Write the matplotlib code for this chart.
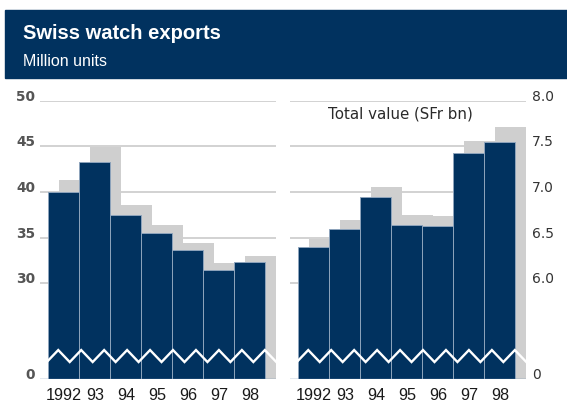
import numpy as np
import matplotlib
matplotlib.use('Agg')
import matplotlib.pyplot as plt
from matplotlib.transforms import blended_transform_factory
from matplotlib.patches import Rectangle

# ---- data ----
years = ['1992', '93', '94', '95', '96', '97', '98']
units = [40.0, 43.3, 37.5, 35.5, 33.6, 31.5, 32.3]
units_shadow = [41.3, 44.9, 38.6, 36.4, 34.4, 32.2, 33.0]
value = [6.40, 6.60, 6.94, 6.64, 6.63, 7.43, 7.55]
value_shadow = [6.49, 6.69, 7.05, 6.75, 6.74, 7.56, 7.71]
units_ticks = [0, 30, 35, 40, 45, 50]
units_ticklabels = ['0', '30', '35', '40', '45', '50']
value_ticks = [0, 6.0, 6.5, 7.0, 7.5, 8.0]
value_ticklabels = ['0', '6.0', '6.5', '7.0', '7.5', '8.0']

NAVY = '#01325f'
SHADOW = '#cfcfcf'
GRID = '#cfcfcf'
EDGE = '#8ea4bc'
BASE = '#6d8db0'

W, H = 567, 404
fig = plt.figure(figsize=(W / 100, H / 100), dpi=100)

# title bar
fig.patches.append(Rectangle((5 / W, 1 - 78.3 / H), 1, (78.3 - 10) / H,
                             transform=fig.transFigure, color=NAVY, zorder=0))
fig.text(22.7 / W, 1 - 39.3 / H, 'Swiss watch exports', color='white',
         fontsize=14.5, fontweight='bold', family='Liberation Sans', va='baseline')
fig.text(22.7 / W, 1 - 66 / H, 'Million units', color='white',
         fontsize=11.5, family='Liberation Sans', va='baseline')


def broken(b, k):
    def fwd(v):
        v = np.asarray(v, float)
        return np.where(v >= b, v, b - (b - v) * k)

    def inv(u):
        u = np.asarray(u, float)
        return np.where(u >= b, u, b - (b - u) / k)
    return fwd, inv


bottom = 1 - 379.3 / H
height = (379.3 - 100.7) / H
axw = 236 / W
ax1 = fig.add_axes([40 / W, bottom, axw, height])
ax2 = fig.add_axes([290 / W, bottom, axw, height])

x = np.arange(len(years))
SH_DX = 0.34


def panel(ax, vals, shadow, ticks, ticklabels, brk, k, side):
    ax.set_yscale('function', functions=broken(brk, k))
    ax.set_ylim(0, ticks[-1])
    ax.set_xlim(-0.768, 6.84)
    for t in ticks[1:]:
        ax.axhline(t, color=GRID, lw=1.3, zorder=1)
    ax.bar(x + SH_DX, shadow, width=1.0, color=SHADOW, lw=0, zorder=2)
    ax.bar(x, vals, width=1.0, color=NAVY, edgecolor=EDGE, lw=0.7, zorder=3)
    ax.axhline(0, color=BASE, lw=1.0, zorder=5)
    # break symbol
    tr = blended_transform_factory(ax.transData, ax.transAxes)
    zx = -0.55 + 0.37 * np.arange(21)
    zy = np.where(np.arange(21) % 2 == 0, 0.062, 0.105)
    ax.plot(zx, zy, color='white', lw=1.7, transform=tr, zorder=4,
            solid_joinstyle='miter', clip_on=False)
    for s in ax.spines.values():
        s.set_visible(False)
    ax.set_xticks(x, years)
    ax.tick_params(axis='x', length=0, pad=6.5, labelsize=11.7,
                   labelcolor='#1a1a1a')
    for lbl in ax.get_xticklabels():
        lbl.set_family('Liberation Sans')
    ax.set_yticks(ticks, ticklabels)
    ax.yaxis.set_minor_locator(matplotlib.ticker.NullLocator())
    if side == 'left':
        ax.tick_params(axis='y', length=0, pad=3.6, labelsize=9.9,
                       labelcolor='#555555')
        for lbl in ax.get_yticklabels():
            lbl.set_family('DejaVu Sans')
            lbl.set_fontweight('bold')
            lbl.set_verticalalignment('baseline')
    else:
        ax.yaxis.tick_right()
        ax.tick_params(axis='y', length=0, pad=4.5, labelsize=10,
                       labelcolor='#333333')
        for lbl in ax.get_yticklabels():
            lbl.set_family('DejaVu Sans')
            lbl.set_verticalalignment('baseline')
    ax.set_facecolor('none')


panel(ax1, units, units_shadow, units_ticks, units_ticklabels, 30, 0.3504, 'left')
panel(ax2, value, value_shadow, value_ticks, value_ticklabels, 6.0, 0.1752, 'right')

fig.text(400.8 / W, 1 - 114 / H, 'Total value (SFr bn)', ha='center', va='center',
         fontsize=10.8, color='#2a2a2a', family='DejaVu Sans')

fig.savefig('out.png', dpi=100)
